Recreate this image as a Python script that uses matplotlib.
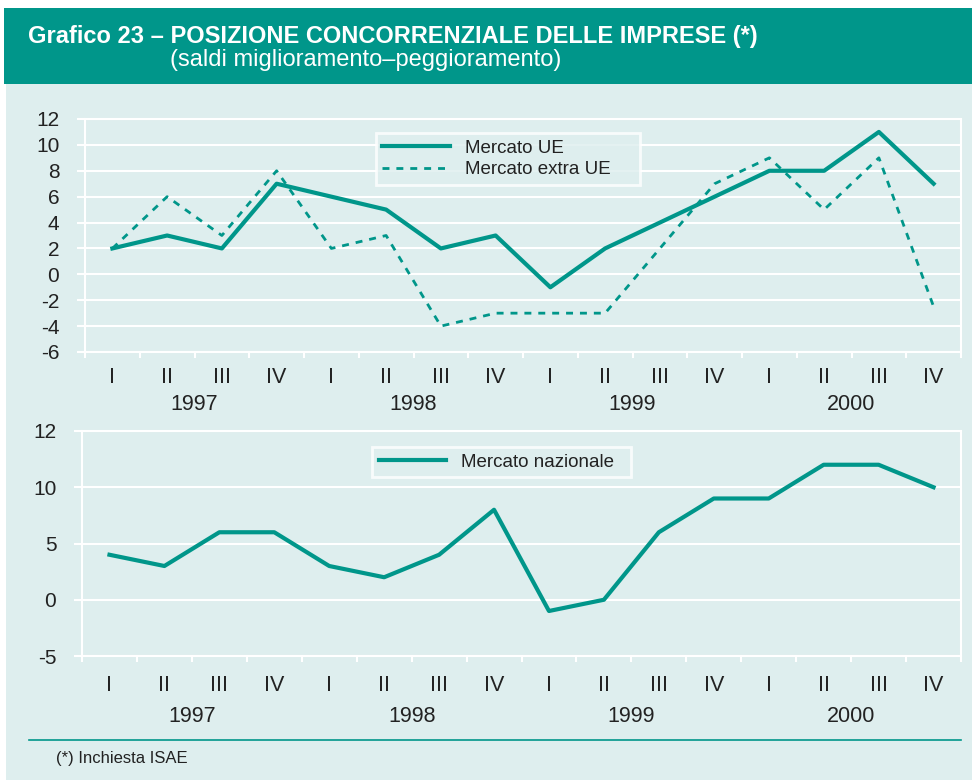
import numpy as np
import matplotlib
matplotlib.use("Agg")
import matplotlib.pyplot as plt
from matplotlib.patches import Rectangle

plt.rcParams['font.family'] = ['Liberation Sans', 'DejaVu Sans']
plt.rcParams['axes.unicode_minus'] = False

# data
quarters = ['I', 'II', 'III', 'IV'] * 4
years = ['1997', '1998', '1999', '2000']
mercato_ue = [2, 3, 2, 7, 6, 5, 2, 3, -1, 2, 4, 6, 8, 8, 11, 7]
mercato_extra_ue = [2, 6, 3, 8, 2, 3, -4, -3, -3, -3, 2, 7, 9, 5, 9, -2.5]
mercato_nazionale = [4, 3, 6, 6, 3, 2, 4, 8, -1, 0, 6, 9, 9, 12, 12, 10]

top_ticks = [-6, -4, -2, 0, 2, 4, 6, 8, 10, 12]
bottom_ticks = [-5, 0, 5, 10, 15]
bottom_labels = ['-5', '0', '5', '10', '12']

teal = '#00968a'
bg = '#deeeee'
text_col = '#222222'

fig = plt.figure(figsize=(9.72, 7.8), dpi=100)
fig.patch.set_facecolor('white')

# background panels
fig.patches.append(Rectangle((6 / 972, 0), 1, 1 - 84 / 780, transform=fig.transFigure,
                             facecolor=bg, edgecolor='none', zorder=-2))
fig.patches.append(Rectangle((4 / 972, 1 - 84 / 780), 1, 76 / 780, transform=fig.transFigure,
                             facecolor=teal, edgecolor='none', zorder=-1))
fig.text(28 / 972, 1 - 36 / 780, 'Grafico 23 \u2013 POSIZIONE CONCORRENZIALE DELLE IMPRESE (*)',
         color='white', fontsize=17, fontweight='bold', va='center', ha='left')
fig.text(170 / 972, 1 - 60 / 780, '(saldi miglioramento\u2013peggioramento)',
         color='white', fontsize=17, va='center', ha='left')

x = np.arange(len(quarters))


def style_axis(ax, qpad, year_off):
    ax.set_facecolor(bg)
    for s in ax.spines.values():
        s.set_color('white')
        s.set_linewidth(1.5)
    ax.grid(axis='y', color='white', linewidth=1.5)
    ax.set_axisbelow(True)
    ax.set_xlim(-0.5, 15.5)
    ax.set_xticks(np.arange(-0.5, 16, 1))
    ax.set_xticklabels([])
    ax.set_xticks(x, minor=True)
    ax.set_xticklabels(quarters, minor=True)
    ax.tick_params(axis='x', which='major', length=4.5, width=1.5, color='white')
    ax.tick_params(axis='x', which='minor', length=0, pad=qpad, labelsize=15.5, labelcolor=text_col)
    ax.tick_params(axis='y', length=6, width=1.5, color='white', pad=12.5,
                   labelsize=15, labelcolor=text_col)
    tr = ax.get_xaxis_transform()
    for i, yr in enumerate(years):
        ax.text(4 * i + 1.5, year_off, yr, transform=tr,
                ha='center', va='center', fontsize=15.5, color=text_col)


def style_legend(leg):
    leg.get_frame().set_edgecolor('white')
    leg.get_frame().set_facecolor(bg)
    leg.get_frame().set_linewidth(2)
    for t in leg.get_texts():
        t.set_color(text_col)


# top panel
ax1 = fig.add_axes([85 / 972, 1 - 352 / 780, 876 / 972, 233 / 780])
ax1.plot(x, mercato_ue, color=teal, linewidth=3, label='Mercato UE')
ax1.plot(x, mercato_extra_ue, color=teal, linewidth=2, linestyle=(0, (2.5, 2.5)),
         label='Mercato extra UE')
ax1.set_ylim(-6, 12)
ax1.set_yticks(top_ticks)
style_axis(ax1, 10.5, -0.227)
leg1 = ax1.legend(loc='upper left', bbox_to_anchor=(0.332, 0.712, 0.302, 0.228),
                  mode='expand', borderaxespad=0, fontsize=13.5, handlelength=3.6,
                  frameon=True, fancybox=False, labelspacing=0.25, borderpad=0.35)
style_legend(leg1)

# bottom panel
ax2 = fig.add_axes([82 / 972, 1 - 656 / 780, 879 / 972, 225 / 780])
ax2.plot(x, mercato_nazionale, color=teal, linewidth=3, label='Mercato nazionale')
ax2.set_ylim(-5, 15)
ax2.set_yticks(bottom_ticks)
ax2.set_yticklabels(bottom_labels)
style_axis(ax2, 13.5, -0.267)
leg2 = ax2.legend(loc='upper left', bbox_to_anchor=(0.33, 0.8, 0.295, 0.129),
                  mode='expand', borderaxespad=0, fontsize=13.5, handlelength=3.6,
                  frameon=True, fancybox=False, borderpad=0.35)
style_legend(leg2)

# footer
fig.add_artist(plt.Line2D([29 / 972, 961 / 972], [1 - 740 / 780, 1 - 740 / 780],
                          transform=fig.transFigure, color=teal, linewidth=1.2))
fig.text(56 / 972, 1 - 758 / 780, '(*) Inchiesta ISAE', fontsize=12, color=text_col,
         va='center', ha='left')

fig.savefig('out.png', dpi=100, facecolor=fig.get_facecolor())
